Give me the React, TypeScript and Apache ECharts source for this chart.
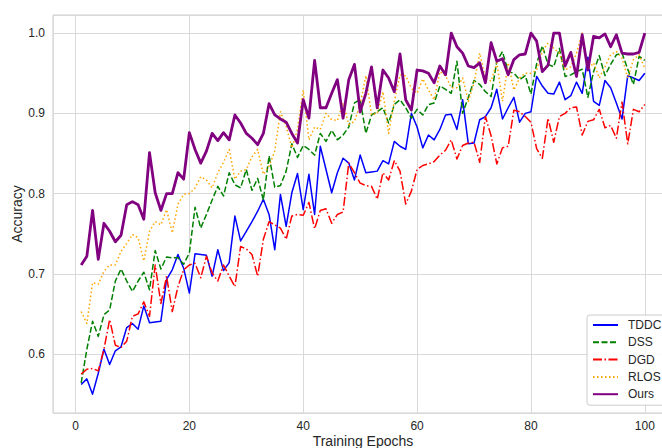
import React, { useEffect, useRef } from "react";
import * as echarts from "echarts";

const epochs = Array.from({ length: 100 }, (_, i) => i + 1);
const seriesNames = ["TDDC", "DSS", "DGD", "RLOS", "Ours"];

const tddc = [
  0.562, 0.569, 0.550, 0.576, 0.606, 0.587, 0.604, 0.609, 0.633, 0.638,
  0.631, 0.660, 0.639, 0.640, 0.641, 0.693, 0.705, 0.724, 0.707, 0.676,
  0.725, 0.724, 0.723, 0.697, 0.730, 0.704, 0.714, 0.772, 0.741, 0.753,
  0.765, 0.778, 0.793, 0.774, 0.730, 0.799, 0.759, 0.801, 0.825, 0.780,
  0.824, 0.774, 0.859, 0.830, 0.801, 0.826, 0.844, 0.838, 0.817, 0.848,
  0.826, 0.827, 0.828, 0.841, 0.837, 0.865, 0.859, 0.855, 0.900, 0.883,
  0.857, 0.873, 0.867, 0.880, 0.898, 0.899, 0.880, 0.917, 0.862, 0.863,
  0.892, 0.896, 0.907, 0.930, 0.893, 0.907, 0.920, 0.889, 0.900, 0.902,
  0.946, 0.934, 0.925, 0.924, 0.939, 0.917, 0.922, 0.939, 0.925, 0.970,
  0.915, 0.910, 0.941, 0.932, 0.913, 0.893, 0.947, 0.944, 0.941, 0.950,
];

const dss = [
  0.564, 0.606, 0.641, 0.622, 0.649, 0.655, 0.691, 0.706, 0.691, 0.678,
  0.691, 0.702, 0.680, 0.729, 0.706, 0.721, 0.720, 0.720, 0.712, 0.726,
  0.783, 0.757, 0.774, 0.792, 0.809, 0.797, 0.826, 0.811, 0.807, 0.830,
  0.804, 0.819, 0.792, 0.847, 0.808, 0.810, 0.828, 0.862, 0.845, 0.860,
  0.855, 0.848, 0.875, 0.865, 0.879, 0.867, 0.873, 0.883, 0.913, 0.917,
  0.875, 0.898, 0.902, 0.907, 0.888, 0.911, 0.917, 0.907, 0.894, 0.905,
  0.898, 0.911, 0.913, 0.934, 0.930, 0.925, 0.965, 0.900, 0.920, 0.941,
  0.936, 0.927, 0.921, 0.965, 0.977, 0.952, 0.950, 0.942, 0.947, 0.924,
  0.962, 0.984, 0.961, 0.958, 0.981, 0.946, 0.948, 0.952, 0.955, 0.920,
  0.952, 0.972, 0.947, 0.961, 0.973, 0.975, 0.955, 0.936, 0.971, 0.966,
];

const dgd = [
  0.575, 0.581, 0.582, 0.579, 0.606, 0.643, 0.611, 0.608, 0.616, 0.647,
  0.650, 0.665, 0.647, 0.711, 0.663, 0.697, 0.653, 0.684, 0.705, 0.711,
  0.713, 0.695, 0.722, 0.701, 0.691, 0.711, 0.697, 0.684, 0.734, 0.731,
  0.724, 0.697, 0.743, 0.765, 0.761, 0.757, 0.743, 0.772, 0.774, 0.773,
  0.789, 0.756, 0.779, 0.781, 0.763, 0.774, 0.777, 0.838, 0.826, 0.813,
  0.810, 0.809, 0.793, 0.826, 0.817, 0.841, 0.828, 0.787, 0.803, 0.830,
  0.835, 0.837, 0.840, 0.848, 0.854, 0.867, 0.843, 0.860, 0.863, 0.864,
  0.839, 0.896, 0.872, 0.837, 0.857, 0.859, 0.904, 0.902, 0.896, 0.889,
  0.856, 0.844, 0.894, 0.864, 0.896, 0.900, 0.907, 0.908, 0.873, 0.890,
  0.892, 0.905, 0.882, 0.885, 0.869, 0.914, 0.862, 0.905, 0.902, 0.911,
];

const rlos = [
  0.653, 0.638, 0.689, 0.687, 0.703, 0.711, 0.711, 0.728, 0.738, 0.749,
  0.745, 0.716, 0.753, 0.765, 0.761, 0.780, 0.751, 0.787, 0.799, 0.800,
  0.807, 0.821, 0.817, 0.807, 0.826, 0.839, 0.855, 0.818, 0.828, 0.830,
  0.846, 0.855, 0.824, 0.834, 0.853, 0.902, 0.884, 0.857, 0.880, 0.929,
  0.867, 0.883, 0.880, 0.900, 0.892, 0.891, 0.913, 0.886, 0.890, 0.911,
  0.947, 0.898, 0.900, 0.927, 0.875, 0.915, 0.948, 0.947, 0.931, 0.925,
  0.943, 0.929, 0.917, 0.952, 0.947, 0.932, 0.932, 0.944, 0.915, 0.938,
  0.975, 0.944, 0.940, 0.963, 0.915, 0.963, 0.929, 0.944, 0.950, 0.950,
  0.954, 0.977, 0.988, 0.981, 0.975, 0.954, 0.958, 0.975, 1.000, 0.954,
  0.963, 0.944, 0.958, 0.973, 0.977, 0.969, 0.944, 0.967, 0.973, 0.956,
];

const ours = [
  0.711, 0.722, 0.779, 0.718, 0.763, 0.753, 0.740, 0.748, 0.786, 0.790,
  0.786, 0.768, 0.851, 0.801, 0.779, 0.800, 0.800, 0.826, 0.818, 0.876,
  0.855, 0.838, 0.853, 0.875, 0.866, 0.876, 0.867, 0.898, 0.888, 0.875,
  0.869, 0.861, 0.875, 0.912, 0.898, 0.893, 0.889, 0.875, 0.863, 0.917,
  0.894, 0.966, 0.907, 0.907, 0.925, 0.942, 0.894, 0.942, 0.961, 0.902,
  0.925, 0.958, 0.907, 0.954, 0.944, 0.927, 0.974, 0.917, 0.904, 0.954,
  0.953, 0.950, 0.938, 0.959, 0.948, 1.000, 0.983, 0.975, 0.959, 0.957,
  0.963, 0.938, 0.988, 0.965, 0.968, 0.948, 0.967, 0.973, 0.974, 1.000,
  0.990, 0.952, 0.960, 1.000, 1.000, 0.959, 0.976, 0.946, 0.998, 0.954,
  0.996, 0.994, 0.999, 0.983, 0.998, 0.975, 0.974, 0.974, 0.976, 1.000,
];

const FONT = "'Liberation Sans', Arial, sans-serif";
const TEXT = "#262626";
const GRIDC = "#d9d9d9";

export default function App() {
  const ref = useRef<HTMLDivElement>(null);
  useEffect(() => {
    document.body.style.margin = "0";
    const chart = echarts.init(ref.current as HTMLDivElement, null, { renderer: "svg" });
    const mk = (name: string, vals: number[], color: string, width: number, type: any) => ({
      name,
      type: "line",
      data: vals.map((v, i) => [epochs[i], v]),
      symbol: "none",
      showSymbol: false,
      lineStyle: { color, width, type, cap: "butt", join: "round" },
      itemStyle: { color },
      emphasis: { disabled: true },
    });
    chart.setOption({
      animation: false,
      backgroundColor: "#ffffff",
      textStyle: { fontFamily: FONT },
      grid: {
        left: 53,
        top: 15,
        width: 620,
        height: 398,
        outerBoundsMode: "none",
        containLabel: false,
        show: true,
        borderColor: "#cccccc",
        borderWidth: 1,
      },
      xAxis: {
        type: "value",
        min: -3.95,
        max: 104.95,
        splitNumber: 5,
        axisLine: { show: false },
        axisTick: { show: false },
        axisLabel: {
          fontFamily: FONT,
          fontSize: 12,
          color: TEXT,
          margin: 7,
          formatter: (v: number) => (Math.abs(v % 20) < 1e-9 ? String(v) : ""),
        },
        splitLine: { show: true, lineStyle: { color: GRIDC, width: 1 } },
      },
      yAxis: {
        type: "value",
        min: 0.5265,
        max: 1.0226,
        splitNumber: 5,
        axisLine: { show: false },
        axisTick: { show: false },
        axisLabel: {
          fontFamily: FONT,
          fontSize: 12,
          color: TEXT,
          margin: 8,
          formatter: (v: number) =>
            Math.abs(v * 10 - Math.round(v * 10)) < 1e-6 ? v.toFixed(1) : "",
        },
        splitLine: { show: true, lineStyle: { color: GRIDC, width: 1 } },
      },
      graphic: [
        {
          type: "text",
          x: 363,
          y: 441,
          style: {
            text: "Training Epochs",
            textAlign: "center",
            textVerticalAlign: "middle",
            fontFamily: FONT,
            fontSize: 14,
            fill: TEXT,
          },
        },
        {
          type: "text",
          x: 17,
          y: 214,
          rotation: Math.PI / 2,
          style: {
            text: "Accuracy",
            textAlign: "center",
            textVerticalAlign: "middle",
            fontFamily: FONT,
            fontSize: 14,
            fill: TEXT,
          },
        },
      ],
      legend: {
        data: seriesNames,
        orient: "vertical",
        left: 587,
        top: 315,
        backgroundColor: "rgba(255,255,255,0.85)",
        borderColor: "#cccccc",
        borderWidth: 1,
        borderRadius: 3,
        padding: [3, 12, 4, 5],
        itemWidth: 25,
        itemHeight: 10,
        itemGap: 3.3,
        selectedMode: false,
        itemStyle: { opacity: 0 },
        textStyle: { fontFamily: FONT, fontSize: 12, color: TEXT, lineHeight: 14, padding: [0, 0, 0, 5] },
      },
      series: [
        mk("TDDC", tddc, "#0000ff", 1.5, "solid"),
        mk("DSS", dss, "#008000", 1.5, [6, 2.5]),
        mk("DGD", dgd, "#ff0000", 1.5, [9, 2.5, 1.5, 2.5]),
        mk("RLOS", rlos, "#ffa500", 1.5, [1.5, 2.5]),
        mk("Ours", ours, "#800080", 2.8, "solid"),
      ],
    });
    return () => chart.dispose();
  }, []);
  return (
    <div
      ref={ref}
      style={{ position: "fixed", left: 0, top: 0, width: 662, height: 448 }}
    />
  );
}
